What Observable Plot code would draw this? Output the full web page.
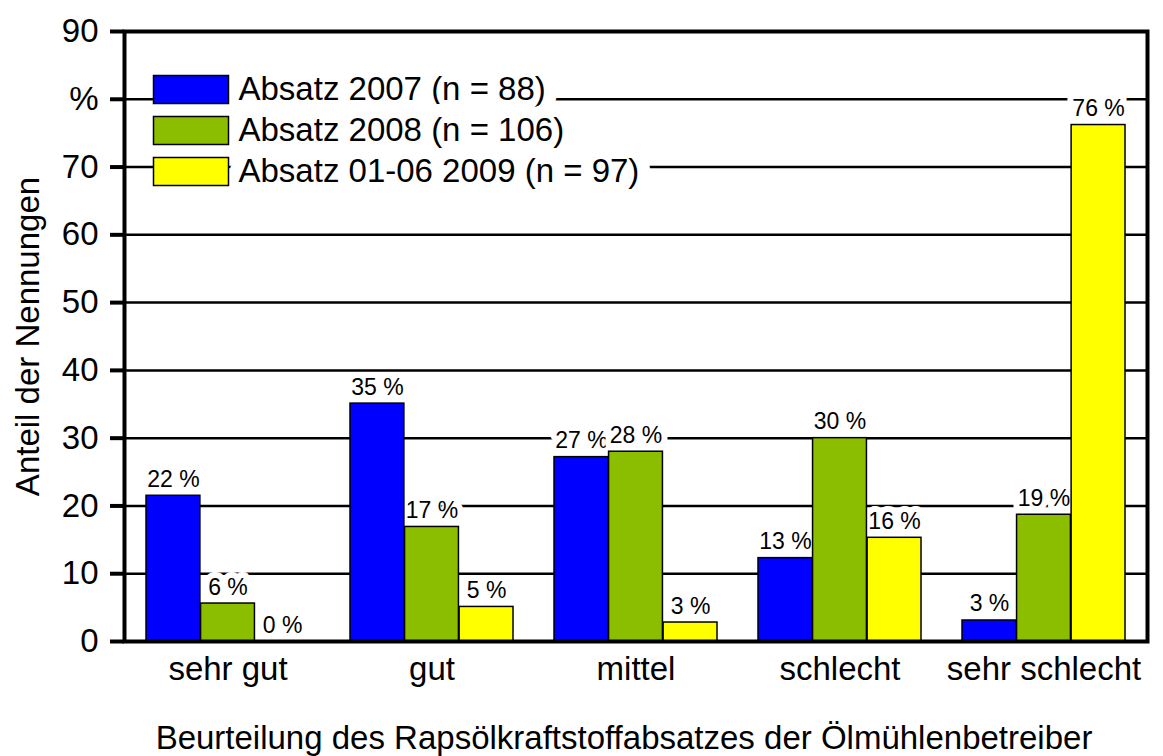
<!DOCTYPE html>
<html><head><meta charset="utf-8">
<script src="https://cdn.jsdelivr.net/npm/d3@7"></script>
<script src="https://cdn.jsdelivr.net/npm/@observablehq/plot@0.6"></script>
<style>body{margin:0;background:#fff}</style>
</head><body><div id="chart"></div>
<script>
const categories = ["sehr gut", "gut", "mittel", "schlecht", "sehr schlecht"];
const seriesNames = ["Absatz 2007 (n = 88)", "Absatz 2008 (n = 106)", "Absatz 01-06 2009 (n = 97)"];
const values2007 = [21.5, 35.1, 27.2, 12.3, 3.1];
const values2008 = [5.6, 16.9, 28.0, 30.0, 18.7];
const values2009 = [0, 5.1, 2.8, 15.3, 76.2];
const labels2007 = ["22 %", "35 %", "27 %", "13 %", "3 %"];
const labels2008 = ["6 %", "17 %", "28 %", "30 %", "19 %"];
const labels2009 = ["0 %", "5 %", "3 %", "16 %", "76 %"];
const colors = ["#0000ff", "#8cbe00", "#ffff00"];
const yTicks = [0, 10, 20, 30, 40, 50, 60, 70, 80, 90];
const yTickLabels = ["0", "10", "20", "30", "40", "50", "60", "70", "%", "90"];
const gridTicks = [10, 20, 30, 40, 50, 60, 70, 80];
const yTitle = "Anteil der Nennungen";
const xTitle = "Beurteilung des Rapsölkraftstoffabsatzes der Ölmühlenbetreiber";

const allValues = [values2007, values2008, values2009];
const allLabels = [labels2007, labels2008, labels2009];
const series = seriesNames.map((name, j) =>
  categories.map((c, i) => ({category: c, value: allValues[j][i], label: allLabels[j][i], series: name}))
);

const W = 1163, H = 756, mL = 124, mR = 16, mT = 31, mB = 115;
const padInner = 0.2, padOuter = 0.1;
const bandwidth = (W - mL - mR) * (1 - padInner) / (categories.length - padInner + 2 * padOuter);
const barW = bandwidth / 3;
const font = "Liberation Sans, Arial, Helvetica, sans-serif";

const swatch = {draw(ctx) { ctx.rect(-37.5, -14, 75, 28); }};

const marks = [
  Plot.gridY(gridTicks, {stroke: "black", strokeOpacity: 1, strokeWidth: 2.5}),
  ...seriesNames.flatMap((name, i) => [
    Plot.text([name], {frameAnchor: "top-left", dx: 114, dy: 58 + 41 * i, text: d => d, textAnchor: "start",
      lineAnchor: "middle", fontSize: 33, fill: "black", stroke: "white", strokeWidth: 26,
      strokeLinejoin: "round", paintOrder: "stroke"}),
    Plot.dot([name], {frameAnchor: "top-left", dx: 66.5, dy: 58 + 41 * i, symbol: swatch,
      fill: colors[i], stroke: "black", strokeWidth: 1.5})
  ]),
  ...series.map((data, j) => Plot.text(data, {x: "category", y: "value", text: "label", dx: (j - 1) * barW, dy: -9,
    lineAnchor: "bottom", fontSize: 23, fill: "black", stroke: "white", strokeWidth: 12,
    strokeLinejoin: "round", paintOrder: "stroke"})),
  ...series.map((data, j) => Plot.barY(data, {x: "category", y: "value", fill: colors[j], stroke: "black",
    strokeWidth: 1.5, insetLeft: j * barW, insetRight: (2 - j) * barW})),
  Plot.frame({stroke: "black", strokeWidth: 4}),
  Plot.axisY({ticks: yTicks, tickFormat: d => yTickLabels[yTicks.indexOf(d)], tickSize: 14, tickPadding: 12,
    strokeWidth: 4, label: null, fontSize: 33}),
  Plot.axisX({tickSize: 0, tickPadding: 15, label: null, fontSize: 33}),
  Plot.text([yTitle], {frameAnchor: "left", rotate: -90, dx: -96, textAnchor: "middle", lineAnchor: "middle",
    fontSize: 33, fill: "black"}),
  Plot.text([xTitle], {frameAnchor: "bottom", dx: -12, dy: 107, textAnchor: "middle", lineAnchor: "bottom",
    fontSize: 33, fill: "black"})
];

const chart = Plot.plot({
  width: W, height: H,
  marginLeft: mL, marginRight: mR, marginTop: mT, marginBottom: mB,
  style: {fontFamily: font, fontSize: "33px", color: "black", background: "white", overflow: "visible"},
  x: {domain: categories, paddingInner: padInner, paddingOuter: padOuter, axis: null, label: null},
  y: {domain: [0, 90], axis: null, label: null},
  marks
});
document.getElementById("chart").appendChild(chart);
</script>
</body></html>
